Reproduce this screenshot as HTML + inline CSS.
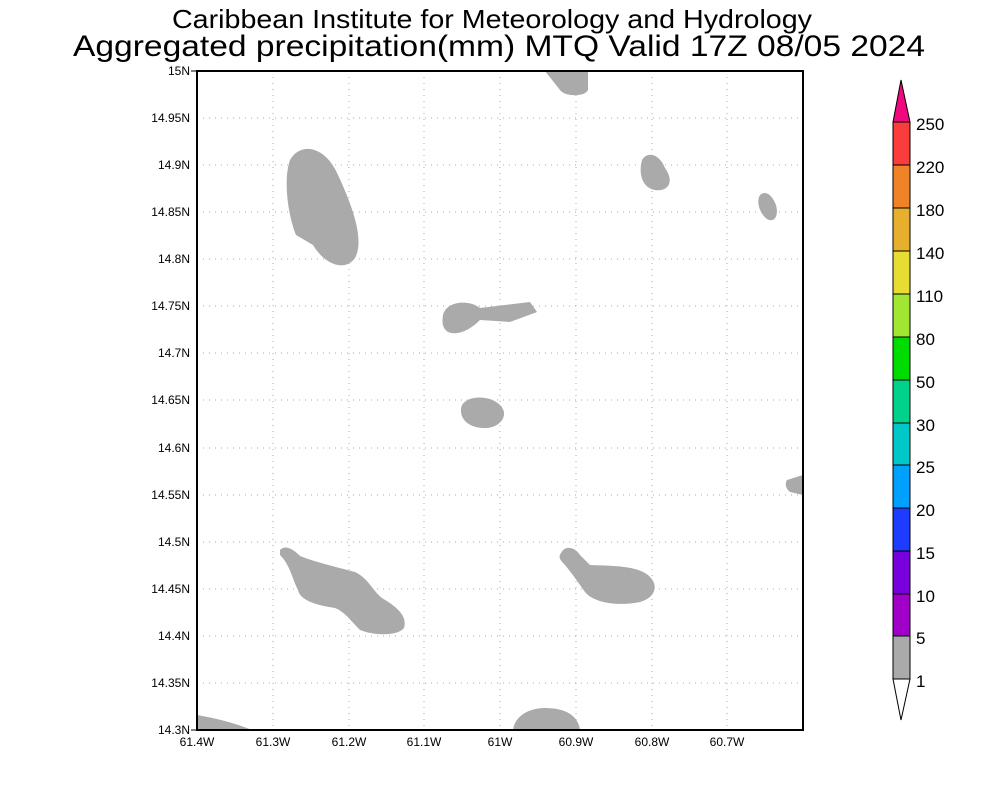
<!DOCTYPE html>
<html><head><meta charset="utf-8"><style>
body{margin:0;background:#fff;}
svg{display:block;font-family:"Liberation Sans",sans-serif;}
</style></head><body>
<svg width="1000" height="800" viewBox="0 0 1000 800">
<rect width="1000" height="800" fill="#fff"/>
<text x="492" y="28" font-size="26" text-anchor="middle" textLength="640" lengthAdjust="spacingAndGlyphs">Caribbean Institute for Meteorology and Hydrology</text>
<text x="499" y="56" font-size="30" text-anchor="middle" textLength="852" lengthAdjust="spacingAndGlyphs">Aggregated precipitation(mm) MTQ Valid 17Z 08/05 2024</text>
<g fill="#aaaaaa">
<path d="M545,71 L588,71 L588,90 C585,97 565,97 560,90 Z"/>
<path d="M290,160 C300,142 325,145 338,175 C352,205 365,240 355,258 C345,272 325,265 313,245 L296,235 C288,215 283,180 290,160 Z"/>
<path d="M642,160 C648,150 660,155 665,168 C675,182 668,192 655,190 C643,188 638,175 642,160 Z"/>
<path d="M760,195 C766,190 772,195 776,205 C780,220 770,225 763,215 C758,208 757,200 760,195 Z"/>
<path d="M443,315 C447,300 470,300 480,308 L530,302 L537,312 L510,322 L480,320 C470,330 458,336 448,332 C442,328 442,322 443,315 Z"/>
<path d="M462,405 C468,395 490,395 500,405 C510,415 500,428 485,428 C465,428 458,415 462,405 Z"/>
<path d="M787,480 L803,475 L803,495 L790,492 C785,488 785,483 787,480 Z"/>
<path d="M280,550 C285,545 292,548 300,556 C315,562 340,568 355,572 C368,578 372,590 382,598 C395,606 408,615 404,628 C398,636 375,636 360,630 C350,620 345,612 335,608 C315,605 300,600 298,590 C292,578 290,565 280,555 Z"/>
<path d="M561,553 C565,545 575,547 580,555 L590,565 C610,566 635,565 648,575 C660,585 655,598 640,602 C620,606 595,604 585,592 C578,582 573,575 565,565 C560,560 558,557 561,553 Z"/>
<path d="M197,715 C215,718 235,723 252,730 L197,730 Z"/>
<path d="M513,730 C515,715 530,708 545,708 C565,708 578,715 580,730 Z"/>
</g>
<g stroke="#aaa" stroke-width="1" stroke-dasharray="1,5">
<line x1="197" y1="118" x2="803" y2="118"/><line x1="197" y1="165" x2="803" y2="165"/><line x1="197" y1="212" x2="803" y2="212"/><line x1="197" y1="259" x2="803" y2="259"/><line x1="197" y1="306" x2="803" y2="306"/><line x1="197" y1="353" x2="803" y2="353"/><line x1="197" y1="400" x2="803" y2="400"/><line x1="197" y1="448" x2="803" y2="448"/><line x1="197" y1="495" x2="803" y2="495"/><line x1="197" y1="542" x2="803" y2="542"/><line x1="197" y1="589" x2="803" y2="589"/><line x1="197" y1="636" x2="803" y2="636"/><line x1="197" y1="683" x2="803" y2="683"/>
<line x1="273" y1="71" x2="273" y2="730"/><line x1="349" y1="71" x2="349" y2="730"/><line x1="424" y1="71" x2="424" y2="730"/><line x1="500" y1="71" x2="500" y2="730"/><line x1="576" y1="71" x2="576" y2="730"/><line x1="652" y1="71" x2="652" y2="730"/><line x1="727" y1="71" x2="727" y2="730"/>
</g>
<rect x="197" y="71" width="606" height="659" fill="none" stroke="#000" stroke-width="2"/>
<g font-size="12" text-anchor="end">
<text x="190" y="75">15N</text><text x="190" y="122">14.95N</text><text x="190" y="169">14.9N</text><text x="190" y="216">14.85N</text><text x="190" y="263">14.8N</text><text x="190" y="310">14.75N</text><text x="190" y="357">14.7N</text><text x="190" y="404">14.65N</text><text x="190" y="452">14.6N</text><text x="190" y="499">14.55N</text><text x="190" y="546">14.5N</text><text x="190" y="593">14.45N</text><text x="190" y="640">14.4N</text><text x="190" y="687">14.35N</text><text x="190" y="734">14.3N</text>
</g>
<g stroke="#000"><line x1="191" y1="71" x2="197" y2="71"/><line x1="191" y1="730" x2="197" y2="730"/></g>
<g font-size="12" text-anchor="middle">
<text x="197" y="746">61.4W</text><text x="273" y="746">61.3W</text><text x="349" y="746">61.2W</text><text x="424" y="746">61.1W</text><text x="500" y="746">61W</text><text x="576" y="746">60.9W</text><text x="652" y="746">60.8W</text><text x="727" y="746">60.7W</text>
</g>
<g stroke="#000" stroke-width="1">
<polygon points="893,122 901,80 910,122" fill="#f0087f"/>
<rect x="893" y="122" width="17" height="43" fill="#fa3c3c"/>
<rect x="893" y="165" width="17" height="43" fill="#f08228"/>
<rect x="893" y="208" width="17" height="43" fill="#e6af2d"/>
<rect x="893" y="251" width="17" height="43" fill="#e6dc32"/>
<rect x="893" y="294" width="17" height="43" fill="#a0e632"/>
<rect x="893" y="337" width="17" height="43" fill="#00dc00"/>
<rect x="893" y="380" width="17" height="43" fill="#00d28c"/>
<rect x="893" y="423" width="17" height="42" fill="#00c8c8"/>
<rect x="893" y="465" width="17" height="43" fill="#00a0ff"/>
<rect x="893" y="508" width="17" height="43" fill="#1e3cff"/>
<rect x="893" y="551" width="17" height="43" fill="#7800dc"/>
<rect x="893" y="594" width="17" height="42" fill="#a000c8"/>
<rect x="893" y="636" width="17" height="43" fill="#aaaaaa"/>
<polygon points="893,679 901,720 910,679" fill="#fff"/>
</g>
<g font-size="17">
<text x="916" y="130">250</text><text x="916" y="173">220</text><text x="916" y="216">180</text><text x="916" y="259">140</text><text x="916" y="302">110</text><text x="916" y="345">80</text><text x="916" y="388">50</text><text x="916" y="431">30</text><text x="916" y="473">25</text><text x="916" y="516">20</text><text x="916" y="559">15</text><text x="916" y="602">10</text><text x="916" y="644">5</text><text x="916" y="687">1</text>
</g>
</svg>
</body></html>
